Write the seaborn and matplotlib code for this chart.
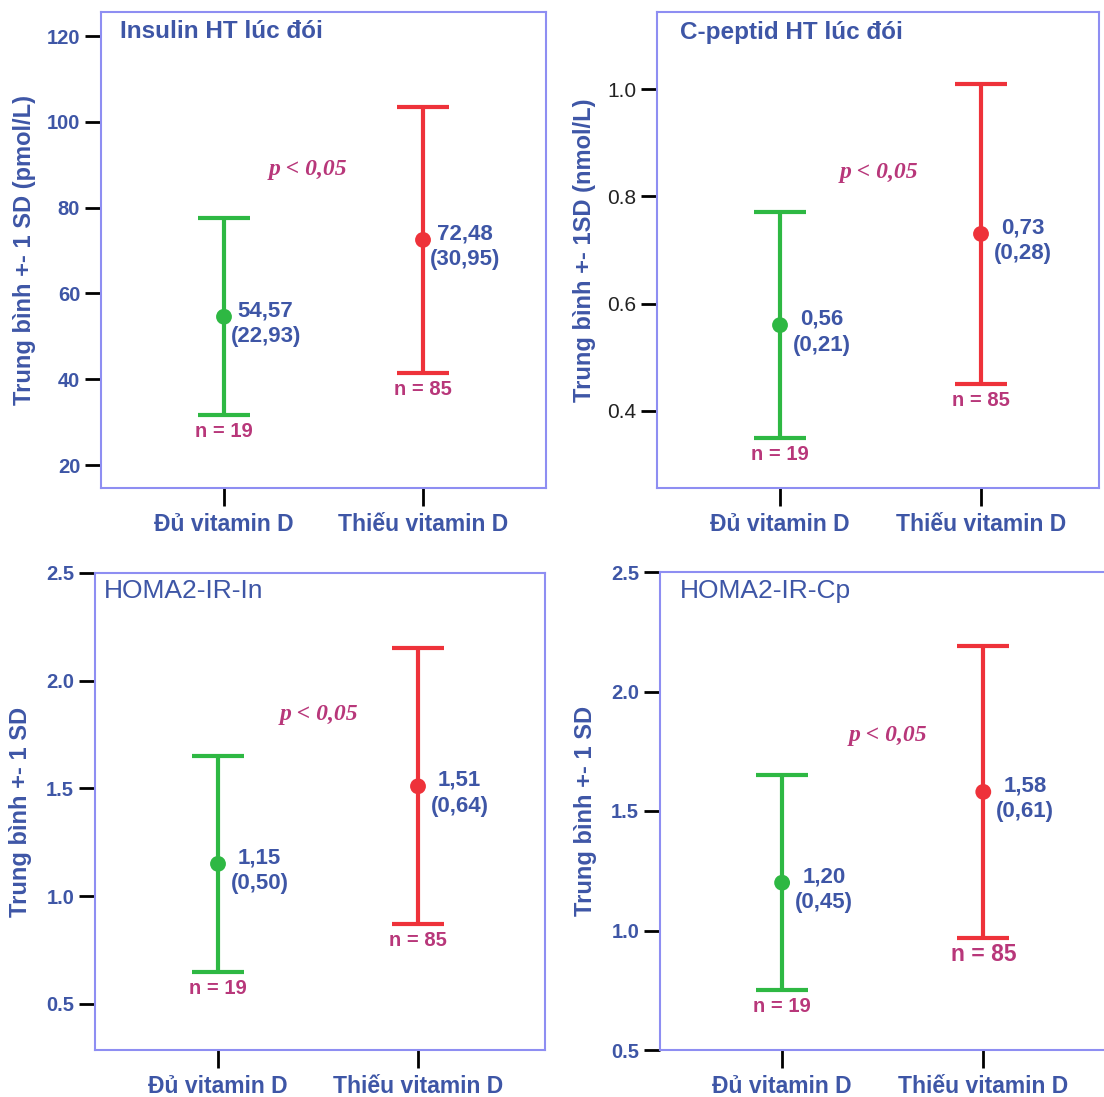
import numpy as np
import pandas as pd
import matplotlib
matplotlib.use("Agg")
import matplotlib.pyplot as plt
import seaborn as sns

# ---------------- data ----------------
groups = ["Đủ vitamin D", "Thiếu vitamin D"]
n_counts = [19, 85]

titles = ["Insulin HT lúc đói", "C-peptid HT lúc đói", "HOMA2-IR-In", "HOMA2-IR-Cp"]
ylabels = ["Trung bình +- 1 SD (pmol/L)", "Trung bình +- 1SD (nmol/L)",
           "Trung bình +- 1 SD", "Trung bình +- 1 SD"]

insulin_mean = [54.57, 72.48]
insulin_sd = [22.93, 30.95]
cpeptid_mean = [0.56, 0.73]
cpeptid_sd = [0.21, 0.28]
homa_in_mean = [1.15, 1.51]
homa_in_sd = [0.50, 0.64]
homa_cp_mean = [1.20, 1.58]
homa_cp_sd = [0.45, 0.61]

p_label = "p < 0,05"

yticks_insulin = [20, 40, 60, 80, 100, 120]
yticks_cpeptid = [0.4, 0.6, 0.8, 1.0]
yticks_homa_in = [0.5, 1.0, 1.5, 2.0, 2.5]
yticks_homa_cp = [0.5, 1.0, 1.5, 2.0, 2.5]

# ---------------- style ----------------
sns.set_style("white")
plt.rcParams['font.family'] = ['Liberation Sans', 'DejaVu Sans']

BLUE = "#3E56A6"
GREEN = "#2EB843"
RED = "#EE323A"
MAGENTA = "#B8377A"
BORDER = "#8E8EF2"
palette = [GREEN, RED]

W, H = 1104, 1097
fig = plt.figure(figsize=(W / 100, H / 100), dpi=100)

def px_axes(l, t, r, b):
    return fig.add_axes([l / W, 1 - b / H, (r - l) / W, (b - t) / H])

panels = [
    dict(box=(101, 12, 546, 488), xlim=(-0.618, 1.618), ylim=(14.65, 125.6),
         mean=insulin_mean, sd=insulin_sd, yticks=yticks_insulin, fmt="{:.0f}",
         tickbold=True, title_xy=(0.043, 0.945), title_bold=True,
         p_xy=(0.42, 88.8), labelpad=8, n_sizes=[14.5, 14.5]),
    dict(box=(657, 12, 1099, 488), xlim=(-0.612, 1.587), ylim=(0.2565, 1.1435),
         mean=cpeptid_mean, sd=cpeptid_sd, yticks=yticks_cpeptid, fmt="{:.1f}",
         tickbold=False, title_xy=(0.052, 0.943), title_bold=True,
         p_xy=(0.49, 0.8444), labelpad=8, n_sizes=[14.5, 14.5]),
    dict(box=(95, 573, 545, 1050), xlim=(-0.615, 1.635), ylim=(0.286, 2.5),
         mean=homa_in_mean, sd=homa_in_sd, yticks=yticks_homa_in, fmt="{:.1f}",
         tickbold=True, title_xy=(0.02, 0.948), title_bold=False,
         p_xy=(0.505, 1.844), labelpad=10, n_sizes=[14.5, 14.5]),
    dict(box=(660, 572, 1106, 1050), xlim=(-0.607, 1.61), ylim=(0.5, 2.5),
         mean=homa_cp_mean, sd=homa_cp_sd, yticks=yticks_homa_cp, fmt="{:.1f}",
         tickbold=True, title_xy=(0.045, 0.946), title_bold=False,
         p_xy=(0.527, 1.814), labelpad=10, n_sizes=[14.5, 16.5]),
]

for k, P in enumerate(panels):
    ax = px_axes(*P["box"])
    df = pd.DataFrame({"group": groups, "mean": P["mean"], "sd": P["sd"], "n": n_counts})
    pos = np.arange(len(groups))

    # error bars (mean +- 1 SD)
    for i, row in df.iterrows():
        ax.errorbar(pos[i], row["mean"], yerr=row["sd"], fmt="none",
                    ecolor=palette[i], elinewidth=3, capsize=18.5, capthick=3,
                    zorder=2)
    # mean markers via seaborn
    sns.scatterplot(data=df, x="group", y="mean", hue="group", palette=palette,
                    s=130, linewidth=0, legend=False, ax=ax, zorder=3)

    # value labels
    for i, row in df.iterrows():
        txt = "{:.2f}".format(row["mean"]).replace(".", ",") + "\n(" + \
              "{:.2f}".format(row["sd"]).replace(".", ",") + ")"
        ax.annotate(txt, xy=(pos[i], row["mean"]), xytext=(30, -5),
                    textcoords="offset points", ha="center", va="center",
                    fontsize=16, fontweight="bold", color=BLUE, linespacing=1.32)
        ax.annotate("n = {}".format(row["n"]), xy=(pos[i], row["mean"] - row["sd"]),
                    xytext=(0, -12), textcoords="offset points", ha="center",
                    va="center", fontsize=P["n_sizes"][i], fontweight="bold",
                    color=MAGENTA)

    # p value
    ax.text(P["p_xy"][0], P["p_xy"][1], p_label, ha="center", va="center",
            fontsize=17, fontweight="bold", fontstyle="italic",
            family=["Liberation Serif", "DejaVu Serif"], color=MAGENTA)

    # title inside
    ax.text(P["title_xy"][0], P["title_xy"][1], titles[k], transform=ax.transAxes,
            ha="left", va="baseline", fontsize=17.5 if P["title_bold"] else 19,
            fontweight="bold" if P["title_bold"] else "normal", color=BLUE)

    ax.set_xlim(*P["xlim"])
    ax.set_ylim(*P["ylim"])
    ax.set_xticks(pos)
    ax.set_xticklabels(groups, fontsize=16.5, fontweight="bold", color=BLUE)
    ax.set_yticks(P["yticks"])
    ax.set_yticklabels([P["fmt"].format(v) for v in P["yticks"]],
                       fontsize=14.5 if P["tickbold"] else 15,
                       fontweight="bold" if P["tickbold"] else "normal",
                       color=BLUE if P["tickbold"] else "#222222")
    ax.set_xlabel("")
    ax.set_ylabel(ylabels[k], fontsize=17, fontweight="bold", color=BLUE,
                  labelpad=P["labelpad"])
    ax.tick_params(axis="y", direction="out", length=11.5, width=2,
                   color="black", pad=3.5, left=True)
    ax.tick_params(axis="x", direction="out", length=13, width=2,
                   color="black", pad=5, bottom=True)
    for sp in ax.spines.values():
        sp.set_visible(True)
        sp.set_color(BORDER)
        sp.set_linewidth(1.5)
    ax.set_facecolor("white")
    ax.grid(False)

fig.savefig("out.png", dpi=100, facecolor="white")
